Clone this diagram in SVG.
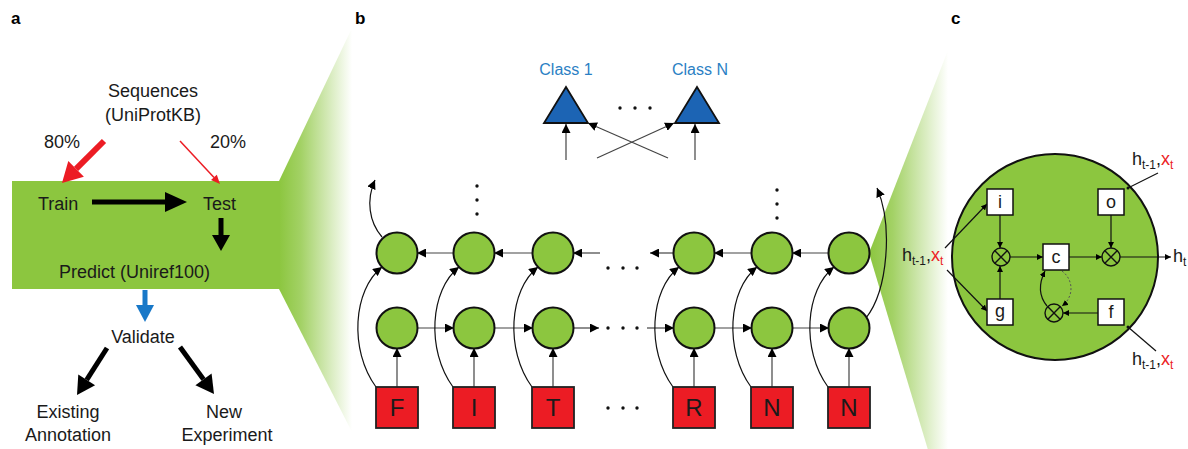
<svg xmlns="http://www.w3.org/2000/svg" width="1188" height="449" viewBox="0 0 1188 449">
<defs>
<style>
text{font-family:"Liberation Sans",Arial,sans-serif;fill:#1a1a1a}
.t18{font-size:18px}
.pl{font-size:17px;font-weight:bold;fill:#000}
.cls{font-size:16px;fill:#2b7fc4}
.let{font-size:24px;text-anchor:middle}
.bx{font-size:18px;text-anchor:middle}
.cell{fill:#8cc63f;stroke:#111;stroke-width:2}
.inp{fill:#ec1c24;stroke:#222;stroke-width:1.8}
.ln{stroke:#444;stroke-width:1.2;fill:none}
.lb{stroke:#111;stroke-width:1.2;fill:none}
.gate{fill:#fff;stroke:#111;stroke-width:1.5}
.mul{fill:none;stroke:#111;stroke-width:1.4}
.dot{fill:#111}
</style>
<marker id="ah" viewBox="0 0 10 10" refX="10" refY="5" markerWidth="9" markerHeight="9" markerUnits="userSpaceOnUse" orient="auto"><path d="M0,0 L10,5 L0,10 z" fill="#000"/></marker>
<marker id="as" viewBox="0 0 10 10" refX="10" refY="5" markerWidth="6" markerHeight="6" markerUnits="userSpaceOnUse" orient="auto"><path d="M0,0 L10,5 L0,10 z" fill="#000"/></marker>
<linearGradient id="gl" gradientUnits="userSpaceOnUse" x1="279" y1="0" x2="352" y2="0"><stop offset="0" stop-color="#8cc63f"/><stop offset="0.3" stop-color="#8cc63f" stop-opacity="0.8"/><stop offset="1" stop-color="#8cc63f" stop-opacity="0"/></linearGradient>
<linearGradient id="gr" gradientUnits="userSpaceOnUse" x1="869" y1="0" x2="948" y2="0"><stop offset="0" stop-color="#8cc63f"/><stop offset="0.3" stop-color="#8cc63f" stop-opacity="0.8"/><stop offset="1" stop-color="#8cc63f" stop-opacity="0"/></linearGradient>
</defs>
<rect width="1188" height="449" fill="#fff"/>

<!-- panel labels -->
<text class="pl" x="11" y="24">a</text>
<text class="pl" x="355" y="24">b</text>
<text class="pl" x="951" y="24">c</text>

<!-- panel a -->
<g id="zoom-left"><polygon points="279,181 352,28 352,432 279,289" fill="url(#gl)"/></g>
<g id="pipeline-box"><rect x="12" y="181" width="268" height="108" fill="#8cc63f"/></g>
<g id="sequences"><text class="t18" x="153" y="97" text-anchor="middle">Sequences</text><text class="t18" x="153" y="121" text-anchor="middle">(UniProtKB)</text></g>
<g id="pct80"><text class="t18" x="62" y="148" text-anchor="middle">80%</text></g>
<g id="pct20"><text class="t18" x="228" y="148" text-anchor="middle">20%</text></g>
<g id="train"><text class="t18" x="38" y="210">Train</text></g>
<g id="test"><text class="t18" x="203" y="210">Test</text></g>
<g id="predict"><text class="t18" x="59" y="278">Predict (Uniref100)</text></g>
<g id="validate"><text class="t18" x="143" y="343" text-anchor="middle">Validate</text></g>
<g id="existing"><text class="t18" x="68" y="418" text-anchor="middle">Existing</text><text class="t18" x="68" y="441" text-anchor="middle">Annotation</text></g>
<g id="new"><text class="t18" x="224" y="418" text-anchor="middle">New</text><text class="t18" x="227" y="441" text-anchor="middle">Experiment</text></g>

<g id="connectors-a">
<line x1="104" y1="141" x2="76.1" y2="168.9" stroke="#ec1c24" stroke-width="6"/>
<polygon points="62,183 83.9,176.7 68.3,161.1" fill="#ec1c24"/>
<line x1="180" y1="141" x2="214" y2="177.4" stroke="#ec1c24" stroke-width="1.5"/>
<polygon points="220,184 211,180.1 216.8,174.7" fill="#ec1c24"/>
<line x1="92" y1="202" x2="166" y2="202" stroke="#000" stroke-width="5"/>
<polygon points="165,192 187,202 165,212" fill="#000"/>
<line x1="221" y1="218" x2="221" y2="236" stroke="#000" stroke-width="5"/>
<polygon points="212,235 221,251 230,235" fill="#000"/>
<line x1="145" y1="290" x2="145" y2="306" stroke="#1878c8" stroke-width="5"/>
<polygon points="136,305 145,322 154,305" fill="#1878c8"/>
<line x1="107" y1="348" x2="86.7" y2="379.8" stroke="#000" stroke-width="5"/>
<polygon points="77,395 95.1,385.2 78.3,374.4" fill="#000"/>
<line x1="180" y1="347" x2="203.5" y2="379.4" stroke="#000" stroke-width="5"/>
<polygon points="214,394 195.4,385.3 211.6,373.5" fill="#000"/>
</g>

<!-- panel b -->
<g id="zoom-right"><polygon points="869,253 952,40 952,530" fill="url(#gr)"/></g>

<g id="class1"><polygon points="566,87 544,123 588,123" fill="#1c64b4" stroke="#111" stroke-width="1.8"/><text class="cls" x="566" y="75" text-anchor="middle">Class 1</text></g>
<g id="classN"><polygon points="697,87 675,123 719,123" fill="#1c64b4" stroke="#111" stroke-width="1.8"/><text class="cls" x="700" y="75" text-anchor="middle">Class N</text></g>

<g id="dots-b">
<circle class="dot" cx="620" cy="108" r="1.7"/><circle class="dot" cx="635" cy="108" r="1.7"/><circle class="dot" cx="650" cy="108" r="1.7"/>
<circle class="dot" cx="477" cy="186" r="1.7"/><circle class="dot" cx="477" cy="200" r="1.7"/><circle class="dot" cx="477" cy="214" r="1.7"/>
<circle class="dot" cx="777" cy="190" r="1.7"/><circle class="dot" cx="777" cy="204" r="1.7"/><circle class="dot" cx="777" cy="218" r="1.7"/>
<circle class="dot" cx="608" cy="268" r="1.7"/><circle class="dot" cx="623" cy="268" r="1.7"/><circle class="dot" cx="637" cy="268" r="1.7"/>
<circle class="dot" cx="608" cy="328" r="1.7"/><circle class="dot" cx="623" cy="328" r="1.7"/><circle class="dot" cx="637" cy="328" r="1.7"/>
<circle class="dot" cx="608" cy="408" r="1.7"/><circle class="dot" cx="623" cy="408" r="1.7"/><circle class="dot" cx="637" cy="408" r="1.7"/>
</g>

<g id="connectors-b">
<line class="ln" x1="566" y1="160" x2="566" y2="124" marker-end="url(#ah)"/>
<line class="ln" x1="695" y1="160" x2="695" y2="124" marker-end="url(#ah)"/>
<line class="ln" x1="597" y1="158" x2="674" y2="123" marker-end="url(#ah)"/>
<line class="ln" x1="668" y1="158" x2="588" y2="123" marker-end="url(#ah)"/>
<line class="ln" x1="454" y1="253" x2="417" y2="253" marker-end="url(#ah)"/>
<line class="ln" x1="533" y1="253" x2="494" y2="253" marker-end="url(#ah)"/>
<line class="ln" x1="600" y1="253" x2="573" y2="253" marker-end="url(#ah)"/>
<line class="ln" x1="674" y1="253" x2="650" y2="253" marker-end="url(#ah)"/>
<line class="ln" x1="752" y1="253" x2="714" y2="253" marker-end="url(#ah)"/>
<line class="ln" x1="829" y1="253" x2="792" y2="253" marker-end="url(#ah)"/>
<line class="ln" x1="417" y1="328" x2="454" y2="328" marker-end="url(#ah)"/>
<line class="ln" x1="494" y1="328" x2="533" y2="328" marker-end="url(#ah)"/>
<line class="ln" x1="573" y1="328" x2="599" y2="328" marker-end="url(#ah)"/>
<line class="ln" x1="647" y1="328" x2="674" y2="328" marker-end="url(#ah)"/>
<line class="ln" x1="714" y1="328" x2="752" y2="328" marker-end="url(#ah)"/>
<line class="ln" x1="792" y1="328" x2="829" y2="328" marker-end="url(#ah)"/>
<line class="ln" x1="397" y1="387" x2="397" y2="348" marker-end="url(#ah)"/>
<line class="ln" x1="474" y1="387" x2="474" y2="348" marker-end="url(#ah)"/>
<line class="ln" x1="553" y1="387" x2="553" y2="348" marker-end="url(#ah)"/>
<line class="ln" x1="694" y1="387" x2="694" y2="348" marker-end="url(#ah)"/>
<line class="ln" x1="772" y1="387" x2="772" y2="348" marker-end="url(#ah)"/>
<line class="ln" x1="849" y1="387" x2="849" y2="348" marker-end="url(#ah)"/>
<path class="lb" d="M376,387 C349,350 353,290 382,267" marker-end="url(#ah)"/>
<path class="lb" d="M453,387 C426,350 430,290 459,267" marker-end="url(#ah)"/>
<path class="lb" d="M532,387 C505,350 509,290 538,267" marker-end="url(#ah)"/>
<path class="lb" d="M673,387 C646,350 650,290 679,267" marker-end="url(#ah)"/>
<path class="lb" d="M751,387 C724,350 728,290 757,267" marker-end="url(#ah)"/>
<path class="lb" d="M828,387 C801,350 805,290 834,267" marker-end="url(#ah)"/>
<path class="lb" d="M382,237 C369,222 366,200 375,180" marker-end="url(#ah)"/>
<path class="lb" d="M866,318 C888,290 893,225 877,188" marker-end="url(#ah)"/>
</g>

<g id="cells-top">
<circle class="cell" cx="397" cy="253" r="20.5"/><circle class="cell" cx="474" cy="253" r="20.5"/><circle class="cell" cx="553" cy="253" r="20.5"/>
<circle class="cell" cx="694" cy="253" r="20.5"/><circle class="cell" cx="772" cy="253" r="20.5"/><circle class="cell" cx="849" cy="253" r="20.5"/>
</g>
<g id="cells-bottom">
<circle class="cell" cx="397" cy="328" r="20.5"/><circle class="cell" cx="474" cy="328" r="20.5"/><circle class="cell" cx="553" cy="328" r="20.5"/>
<circle class="cell" cx="694" cy="328" r="20.5"/><circle class="cell" cx="772" cy="328" r="20.5"/><circle class="cell" cx="849" cy="328" r="20.5"/>
</g>
<g id="input-F"><rect class="inp" x="376" y="387" width="42" height="41"/><text class="let" x="397" y="416">F</text></g>
<g id="input-I"><rect class="inp" x="453" y="387" width="42" height="41"/><text class="let" x="474" y="416">I</text></g>
<g id="input-T"><rect class="inp" x="532" y="387" width="42" height="41"/><text class="let" x="553" y="416">T</text></g>
<g id="input-R"><rect class="inp" x="673" y="387" width="42" height="41"/><text class="let" x="694" y="416">R</text></g>
<g id="input-N1"><rect class="inp" x="751" y="387" width="42" height="41"/><text class="let" x="772" y="416">N</text></g>
<g id="input-N2"><rect class="inp" x="828" y="387" width="42" height="41"/><text class="let" x="849" y="416">N</text></g>

<!-- panel c -->
<g id="lstm-cell"><circle cx="1055" cy="257" r="103" fill="#8cc63f" stroke="#111" stroke-width="2"/></g>
<g id="connectors-c">
<line class="lb" x1="945" y1="248" x2="987" y2="204" marker-end="url(#as)"/>
<line class="lb" x1="947" y1="270" x2="987" y2="311" marker-end="url(#as)"/>
<line class="lb" x1="1000" y1="215" x2="1000" y2="248" marker-end="url(#as)"/>
<line class="lb" x1="1000" y1="299" x2="1000" y2="266" marker-end="url(#as)"/>
<line class="lb" x1="1010" y1="257" x2="1043" y2="257" marker-end="url(#as)"/>
<line class="lb" x1="1069" y1="257" x2="1102" y2="257" marker-end="url(#as)"/>
<line class="lb" x1="1111" y1="215" x2="1111" y2="248" marker-end="url(#as)"/>
<line class="lb" x1="1120" y1="257" x2="1171" y2="257" marker-end="url(#as)"/>
<line class="lb" x1="1098" y1="313" x2="1063" y2="313" marker-end="url(#as)"/>
<path class="lb" d="M1047,306 C1038,295 1039,283 1045,271" marker-end="url(#as)"/>
<path d="M1062,271 C1074,280 1074,297 1062,306" fill="none" stroke="#555" stroke-width="1" stroke-dasharray="2,2" marker-end="url(#as)"/>
<line class="lb" x1="1128" y1="188" x2="1158" y2="173"/>
<line class="lb" x1="1128" y1="327" x2="1156" y2="351"/>
<circle class="dot" cx="1128" cy="188" r="1.5"/><circle class="dot" cx="1128" cy="327" r="1.5"/>
</g>
<g id="gate-i"><rect class="gate" x="987" y="189" width="26" height="26"/><text class="bx" x="1000" y="208">i</text></g>
<g id="gate-o"><rect class="gate" x="1098" y="189" width="26" height="26"/><text class="bx" x="1111" y="208">o</text></g>
<g id="gate-c"><rect class="gate" x="1043" y="244" width="26" height="26"/><text class="bx" x="1056" y="263">c</text></g>
<g id="gate-g"><rect class="gate" x="987" y="299" width="26" height="26"/><text class="bx" x="1000" y="317">g</text></g>
<g id="gate-f"><rect class="gate" x="1098" y="299" width="26" height="26"/><text class="bx" x="1111" y="318">f</text></g>
<g id="mul-1"><circle class="mul" cx="1001" cy="257" r="9"/><path class="mul" d="M994.6,250.6 L1007.4,263.4 M1007.4,250.6 L994.6,263.4"/></g>
<g id="mul-2"><circle class="mul" cx="1111" cy="257" r="9"/><path class="mul" d="M1104.6,250.6 L1117.4,263.4 M1117.4,250.6 L1104.6,263.4"/></g>
<g id="mul-3"><circle class="mul" cx="1054" cy="313" r="9"/><path class="mul" d="M1047.6,306.6 L1060.4,319.4 M1060.4,306.6 L1047.6,319.4"/></g>
<g id="label-in"><text class="t18" x="902" y="261">h<tspan font-size="12" dy="4">t-1</tspan><tspan dy="-4">,</tspan><tspan fill="#ec1c24">x</tspan><tspan font-size="12" dy="4" fill="#ec1c24">t</tspan></text></g>
<g id="label-top"><text class="t18" x="1132" y="165">h<tspan font-size="12" dy="4">t-1</tspan><tspan dy="-4">,</tspan><tspan fill="#ec1c24">x</tspan><tspan font-size="12" dy="4" fill="#ec1c24">t</tspan></text></g>
<g id="label-bot"><text class="t18" x="1132" y="365">h<tspan font-size="12" dy="4">t-1</tspan><tspan dy="-4">,</tspan><tspan fill="#ec1c24">x</tspan><tspan font-size="12" dy="4" fill="#ec1c24">t</tspan></text></g>
<g id="label-out"><text class="t18" x="1173" y="262">h<tspan font-size="12" dy="4">t</tspan></text></g>
</svg>
